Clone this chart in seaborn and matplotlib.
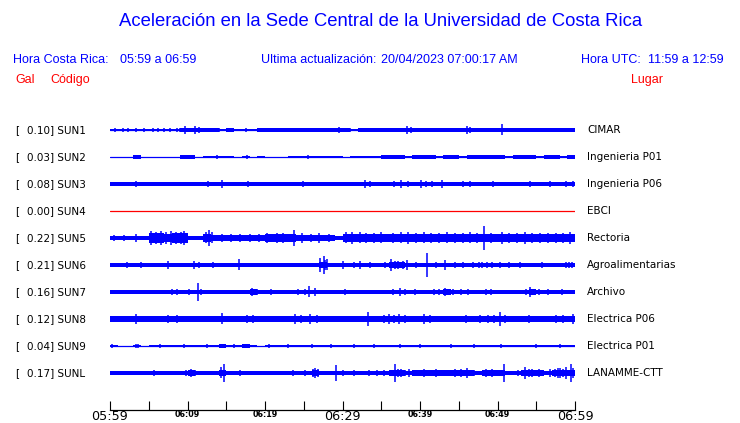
import numpy as np
import pandas as pd
import matplotlib
matplotlib.use("Agg")
import matplotlib.pyplot as plt
import seaborn as sns

# Station data (amplitudes in gal)
codes = ["SUN1", "SUN2", "SUN3", "SUN4", "SUN5", "SUN6", "SUN7", "SUN8", "SUN9", "SUNL"]
places = ["CIMAR", "Ingenieria P01", "Ingenieria P06", "EBCI", "Rectoria",
          "Agroalimentarias", "Archivo", "Electrica P06", "Electrica P01", "LANAMME-CTT"]
peaks = [0.10, 0.03, 0.08, 0.00, 0.22, 0.21, 0.16, 0.12, 0.04, 0.17]

# per-minute envelope half-height of the background band (60 one-minute bins)
band_sun1 = [0.022, 0.018, 0.022, 0.022, 0.018, 0.018, 0.022, 0.022, 0.027, 0.035,
             0.035, 0.032, 0.028, 0.028, 0.02, 0.028, 0.02, 0.022, 0.026, 0.028,
             0.028, 0.028, 0.032, 0.032, 0.032, 0.032, 0.032, 0.032, 0.032, 0.034,
             0.032, 0.027, 0.034, 0.032, 0.034, 0.034, 0.032, 0.034, 0.034, 0.032,
             0.034, 0.034, 0.032, 0.034, 0.034, 0.032, 0.034, 0.034, 0.032, 0.034,
             0.034, 0.032, 0.034, 0.034, 0.032, 0.034, 0.034, 0.032, 0.034, 0.034]
band_sun2 = [0.008, 0.008, 0.008, 0.028, 0.008, 0.008, 0.008, 0.008, 0.008, 0.028,
             0.028, 0.008, 0.016, 0.027, 0.027, 0.016, 0.008, 0.027, 0.008, 0.013,
             0.008, 0.008, 0.008, 0.016, 0.025, 0.027, 0.027, 0.016, 0.013, 0.013,
             0.008, 0.016, 0.027, 0.027, 0.016, 0.028, 0.028, 0.028, 0.014, 0.028,
             0.028, 0.028, 0.014, 0.028, 0.028, 0.014, 0.028, 0.028, 0.028, 0.028,
             0.028, 0.014, 0.028, 0.028, 0.028, 0.014, 0.028, 0.028, 0.014, 0.028]
band_sun3 = [0.034] * 8 + [0.04, 0.04, 0.034, 0.034, 0.04, 0.034, 0.045] + [0.034] * 7 + \
            [0.04, 0.034, 0.04, 0.04] + [0.034] * 6 + [0.045, 0.045, 0.034, 0.034, 0.045, 0.045] + \
            [0.034, 0.034, 0.04, 0.04] + [0.034] * 7 + [0.04, 0.04, 0.034, 0.034, 0.04, 0.034,
                                                        0.034, 0.04, 0.04, 0.04, 0.04]
band_sun4 = [0.0] * 60
band_sun5 = [0.042] * 5 + [0.085, 0.085, 0.08, 0.085, 0.085, 0.045, 0.045, 0.07] + [0.058] * 7 + \
            [0.066] * 4 + [0.062] * 5 + [0.045] + \
            [0.075, 0.07, 0.075, 0.068, 0.075, 0.075, 0.07, 0.075, 0.068, 0.075,
             0.07, 0.075, 0.068, 0.07, 0.075, 0.07, 0.068, 0.075] + [0.066] * 12
band_sun6 = [0.036] * 12 + [0.045, 0.045] + [0.036] * 13 + [0.06] + [0.036] * 8 + \
            [0.05, 0.05] + [0.036] * 9 + [0.045, 0.045, 0.045] + [0.036] * 8 + [0.045, 0.045]
band_sun7 = [0.032, 0.032, 0.032, 0.04, 0.032, 0.032, 0.032, 0.032, 0.04, 0.04,
             0.032, 0.032, 0.032, 0.032, 0.032, 0.032, 0.032, 0.032, 0.05, 0.04,
             0.04, 0.032, 0.032, 0.04, 0.032, 0.045, 0.032, 0.032, 0.032, 0.04,
             0.04, 0.032, 0.032, 0.032, 0.032, 0.032, 0.032, 0.045, 0.032, 0.04,
             0.032, 0.032, 0.032, 0.05, 0.032, 0.045, 0.045, 0.032, 0.032, 0.045,
             0.032, 0.04, 0.032, 0.032, 0.055, 0.032, 0.04, 0.04, 0.04, 0.04]
band_sun8 = [0.046, 0.046, 0.046, 0.046, 0.046, 0.046, 0.046, 0.055, 0.055, 0.055,
             0.046, 0.046, 0.046, 0.046, 0.055, 0.046, 0.046, 0.055, 0.055, 0.046,
             0.046, 0.046, 0.046, 0.055, 0.055, 0.055, 0.055, 0.046, 0.046, 0.046,
             0.046, 0.046, 0.046, 0.046, 0.046, 0.055, 0.055, 0.055, 0.055, 0.046,
             0.055, 0.055, 0.046, 0.046, 0.046, 0.055, 0.055, 0.046, 0.055, 0.055,
             0.055, 0.046, 0.046, 0.046, 0.046, 0.046, 0.046, 0.046, 0.046, 0.055]
band_sun9 = [0.026, 0.008, 0.008, 0.026, 0.008, 0.016, 0.02, 0.02, 0.016, 0.024,
             0.024, 0.016, 0.024, 0.024, 0.03, 0.026, 0.024, 0.028, 0.016, 0.008,
             0.02, 0.016, 0.016, 0.026] + [0.027] * 36
band_sunl = [0.036] * 10 + [0.05, 0.036, 0.036, 0.036, 0.055] + [0.036] * 11 + \
            [0.055, 0.036, 0.036, 0.042, 0.036, 0.036, 0.036, 0.042, 0.042, 0.042,
             0.055, 0.055, 0.036] + [0.048] * 8 + [0.036, 0.048, 0.048, 0.048, 0.036,
                                                   0.036, 0.06, 0.06, 0.06, 0.036,
                                                   0.062, 0.062, 0.062]

# spikes: (minute after 05:59, half-height in gal)
spikes_sun1 = [(4.4, 0.033), (9.7, 0.068), (10.1, 0.045), (11.0, 0.08), (14.0, 0.042),
               (22.6, 0.045), (29.5, 0.058), (34.1, 0.045), (38.3, 0.068), (38.8, 0.055),
               (41.5, 0.045), (46.0, 0.073), (46.5, 0.055), (49.7, 0.045), (50.6, 0.10),
               (57.9, 0.045),
               (0.6, 0.028), (1.7, 0.028), (2.3, 0.028), (3.3, 0.028), (5.5, 0.028),
               (6.2, 0.028), (7.0, 0.028), (7.8, 0.028), (8.6, 0.04), (9.0, 0.045),
               (11.5, 0.05), (12.2, 0.045), (13.2, 0.035), (15.5, 0.035), (17.5, 0.03),
               (19.5, 0.035), (20.5, 0.035), (24.0, 0.04), (26.0, 0.04), (27.5, 0.035),
               (31.0, 0.04), (33.0, 0.04), (36.0, 0.04), (40.0, 0.04), (43.5, 0.04),
               (48.0, 0.04), (53.0, 0.04), (55.5, 0.04), (59.0, 0.04)]
spikes_sun2 = [(3.3, 0.03), (9.6, 0.03), (13.8, 0.03), (17.7, 0.03), (25.5, 0.03),
               (36.5, 0.03), (49.8, 0.03), (19.3, 0.022), (28.5, 0.025), (31.2, 0.025)]
spikes_sun3 = [(3.3, 0.055), (7.7, 0.045), (9.2, 0.045), (14.4, 0.068), (17.8, 0.055),
               (21.0, 0.045), (22.8, 0.045), (25.3, 0.045), (32.9, 0.064), (37.6, 0.08),
               (40.1, 0.08), (42.8, 0.064), (45.6, 0.05), (50.2, 0.045), (53.5, 0.045),
               (58.0, 0.045), (59.8, 0.05),
               (1.5, 0.04), (5.0, 0.04), (10.5, 0.045), (12.7, 0.05), (16.0, 0.04),
               (19.5, 0.04), (24.9, 0.05), (27.0, 0.045), (28.5, 0.04), (30.5, 0.045),
               (33.6, 0.05), (35.0, 0.045), (36.6, 0.055), (38.5, 0.05), (40.8, 0.05),
               (41.6, 0.05), (44.0, 0.045), (46.4, 0.05), (49.4, 0.05), (52.0, 0.045),
               (54.2, 0.05), (55.5, 0.045), (56.8, 0.05), (58.8, 0.05)]
spikes_sun4 = []
spikes_sun5 = [(3.3, 0.064), (9.6, 0.127), (12.8, 0.145), (18.0, 0.07), (21.5, 0.09),
               (23.7, 0.145), (27.0, 0.09), (31.2, 0.109), (34.0, 0.09), (36.5, 0.09),
               (38.5, 0.109), (42.5, 0.09), (45.5, 0.09), (48.2, 0.22), (50.6, 0.109),
               (53.5, 0.109), (56.5, 0.09), (59.4, 0.109),
               (0.5, 0.055), (1.8, 0.05), (5.3, 0.12), (5.9, 0.11), (6.6, 0.12),
               (7.2, 0.11), (7.9, 0.12), (8.5, 0.11), (9.2, 0.115), (12.4, 0.1),
               (13.2, 0.1), (14.5, 0.075), (15.6, 0.08), (16.8, 0.075), (19.2, 0.08),
               (20.3, 0.085), (22.3, 0.09), (24.8, 0.085), (25.9, 0.08), (28.2, 0.075),
               (30.4, 0.1), (32.2, 0.1), (33.0, 0.095), (35.0, 0.1), (37.5, 0.1),
               (39.5, 0.095), (40.5, 0.1), (41.4, 0.095), (43.5, 0.1), (44.5, 0.095),
               (46.5, 0.1), (47.3, 0.095), (49.2, 0.09), (51.5, 0.09), (52.5, 0.085),
               (54.5, 0.09), (55.5, 0.085), (57.5, 0.09), (58.5, 0.09)]
spikes_sun6 = [(0.9, 0.045), (2.2, 0.055), (4.0, 0.055), (7.5, 0.064), (10.9, 0.064),
               (11.5, 0.055), (12.8, 0.045), (16.6, 0.10), (19.2, 0.045), (27.1, 0.12),
               (27.6, 0.17), (28.0, 0.10), (30.1, 0.064), (32.3, 0.073), (33.5, 0.05),
               (36.3, 0.109), (37.2, 0.073), (38.3, 0.082), (40.9, 0.21), (43.2, 0.082),
               (44.5, 0.055), (48.0, 0.055), (50.3, 0.05), (52.9, 0.055), (54.8, 0.045),
               (59.6, 0.05),
               (1.5, 0.045), (3.0, 0.045), (5.5, 0.045), (6.5, 0.045), (9.0, 0.045),
               (13.3, 0.05), (14.5, 0.045), (15.5, 0.045), (18.0, 0.045), (21.5, 0.045),
               (24.0, 0.045), (25.5, 0.045), (27.8, 0.09), (29.2, 0.045), (31.5, 0.05),
               (34.5, 0.045), (35.5, 0.05), (36.8, 0.07), (37.8, 0.07), (39.5, 0.05),
               (42.0, 0.05), (45.5, 0.05), (46.8, 0.05), (47.6, 0.06), (48.6, 0.055),
               (49.3, 0.06), (51.5, 0.05), (55.8, 0.05), (57.2, 0.045), (58.8, 0.06),
               (59.2, 0.055)]
spikes_sun7 = [(0.9, 0.04), (3.4, 0.045), (6.0, 0.045), (8.0, 0.055), (9.5, 0.045),
               (11.3, 0.16), (11.8, 0.06), (13.3, 0.045), (16.1, 0.045), (18.3, 0.064),
               (20.2, 0.045), (23.8, 0.045), (25.7, 0.10), (26.5, 0.073), (29.9, 0.045),
               (31.5, 0.045), (35.3, 0.045), (37.4, 0.073), (39.4, 0.05), (41.8, 0.05),
               (43.2, 0.073), (46.2, 0.055), (49.2, 0.055), (51.5, 0.045), (54.2, 0.082),
               (57.0, 0.045), (59.5, 0.045),
               (1.8, 0.04), (2.5, 0.04), (4.5, 0.04), (5.2, 0.04), (7.0, 0.04),
               (8.7, 0.05), (10.2, 0.05), (12.3, 0.045), (14.5, 0.04), (15.2, 0.04),
               (17.3, 0.045), (19.0, 0.05), (20.8, 0.05), (22.0, 0.04), (24.2, 0.05),
               (25.2, 0.06), (27.5, 0.045), (28.5, 0.045), (30.3, 0.05), (32.5, 0.045),
               (33.5, 0.045), (34.6, 0.045), (36.5, 0.055), (38.0, 0.06), (40.3, 0.045),
               (42.5, 0.05), (44.3, 0.05), (45.3, 0.055), (47.5, 0.045), (48.5, 0.05),
               (50.5, 0.045), (52.5, 0.045), (53.7, 0.06), (55.3, 0.05), (56.5, 0.05),
               (58.3, 0.05)]
spikes_sun8 = [(3.3, 0.09), (7.5, 0.064), (8.7, 0.064), (14.4, 0.10), (17.7, 0.073),
               (18.5, 0.064), (23.9, 0.082), (25.8, 0.082), (26.7, 0.07), (33.3, 0.12),
               (36.0, 0.082), (37.3, 0.082), (38.1, 0.073), (40.5, 0.082), (45.9, 0.07),
               (48.8, 0.073), (50.3, 0.12), (51.0, 0.07), (54.0, 0.064), (57.5, 0.064),
               (59.7, 0.09),
               (0.5, 0.06), (1.5, 0.06), (2.5, 0.055), (4.5, 0.06), (5.5, 0.06),
               (6.5, 0.06), (9.5, 0.06), (10.5, 0.06), (11.7, 0.06), (13.0, 0.06),
               (15.5, 0.06), (16.5, 0.06), (19.5, 0.06), (21.0, 0.06), (22.2, 0.06),
               (24.7, 0.07), (28.0, 0.06), (29.5, 0.06), (31.0, 0.06), (32.2, 0.06),
               (34.5, 0.06), (35.3, 0.07), (36.7, 0.07), (39.2, 0.06), (41.3, 0.07),
               (42.5, 0.06), (43.6, 0.06), (44.7, 0.06), (46.8, 0.06), (47.7, 0.065),
               (49.5, 0.07), (52.2, 0.06), (53.2, 0.06), (55.0, 0.06), (56.2, 0.06),
               (58.5, 0.07)]
spikes_sun9 = [(0.3, 0.035), (3.4, 0.038), (14.4, 0.038), (37.4, 0.036), (40.0, 0.038),
               (50.5, 0.04),
               (3.6, 0.034), (6.5, 0.03), (9.5, 0.03), (12.5, 0.03), (16.0, 0.03),
               (17.5, 0.034), (20.5, 0.03), (23.0, 0.034), (26.0, 0.034), (28.5, 0.034),
               (31.5, 0.034), (34.0, 0.034), (44.0, 0.034), (47.0, 0.034), (55.0, 0.034),
               (58.0, 0.034)]
spikes_sunl = [(2.8, 0.045), (3.3, 0.045), (5.7, 0.055), (8.8, 0.045), (10.5, 0.064),
               (13.2, 0.045), (14.3, 0.10), (14.7, 0.164), (16.8, 0.055), (19.1, 0.045),
               (20.2, 0.045), (21.5, 0.045), (24.5, 0.045), (26.5, 0.09), (29.2, 0.145),
               (30.5, 0.045), (34.5, 0.05), (36.8, 0.17), (37.5, 0.08), (38.6, 0.064),
               (40.5, 0.064), (42.0, 0.064), (44.5, 0.064), (46.0, 0.09), (48.5, 0.064),
               (50.8, 0.17), (53.5, 0.109), (54.5, 0.073), (55.4, 0.073), (57.4, 0.073),
               (58.1, 0.082), (58.9, 0.109), (59.5, 0.17),
               (0.5, 0.04), (1.2, 0.04), (4.5, 0.04), (7.0, 0.04), (9.8, 0.05),
               (11.0, 0.055), (12.2, 0.04), (15.3, 0.045), (17.5, 0.045), (18.2, 0.04),
               (22.8, 0.045), (23.6, 0.05), (25.1, 0.05), (26.2, 0.07), (26.9, 0.07),
               (28.2, 0.045), (30.0, 0.05), (31.5, 0.05), (32.5, 0.045), (33.4, 0.05),
               (35.3, 0.05), (37.1, 0.08), (38.0, 0.06), (39.4, 0.06), (41.2, 0.06),
               (42.8, 0.06), (43.7, 0.06), (45.3, 0.07), (47.0, 0.055), (49.3, 0.07),
               (50.1, 0.06), (52.6, 0.06), (54.0, 0.08), (55.9, 0.06), (56.8, 0.07),
               (57.8, 0.09), (58.5, 0.08), (59.8, 0.09)]

bands = [band_sun1, band_sun2, band_sun3, band_sun4, band_sun5,
         band_sun6, band_sun7, band_sun8, band_sun9, band_sunl]
spikes = [spikes_sun1, spikes_sun2, spikes_sun3, spikes_sun4, spikes_sun5,
          spikes_sun6, spikes_sun7, spikes_sun8, spikes_sun9, spikes_sunl]

tick_minutes = list(range(0, 61, 5))
tick_labels = ["05:59", "", "06:09", "", "06:19", "", "06:29", "", "06:39", "", "06:49", "", "06:59"]
big_ticks = ["05:59", "06:29", "06:59"]

BLUE = "#0000ff"
RED = "#ff0000"
W, H = 740, 423
PX_PER_GAL = 55.0      # vertical gain shared by all traces
ROW_PX = 27.0          # distance between traces
TOP_BASE_PX = 130.0    # baseline of first trace
AX_TOP_PX, AX_BOT_PX = 112.0, 409.5
AX_LEFT_PX, AX_RIGHT_PX = 110.0, 575.0

sns.set_theme(style="white")
plt.rcParams["font.family"] = ["DejaVu Sans"]
plt.rcParams["text.color"] = "black"
plt.rcParams["xtick.color"] = "black"

fig = plt.figure(figsize=(W / 100, H / 100), dpi=100)
ax = fig.add_axes([AX_LEFT_PX / W, (H - AX_BOT_PX) / H,
                   (AX_RIGHT_PX - AX_LEFT_PX) / W, (AX_BOT_PX - AX_TOP_PX) / H])
ax.set_xlim(0, 60)
ax.set_ylim(-(AX_BOT_PX - TOP_BASE_PX) / PX_PER_GAL, (TOP_BASE_PX - AX_TOP_PX) / PX_PER_GAL)

spacing = ROW_PX / PX_PER_GAL
edges = np.arange(61)
rows = []
for i, code in enumerate(codes):
    base = -i * spacing
    rows += [{"minute": 0, "y": base, "code": code}, {"minute": 60, "y": base, "code": code}]
df = pd.DataFrame(rows)
palette = {c: (RED if p == 0 else BLUE) for c, p in zip(codes, peaks)}
sns.lineplot(data=df, x="minute", y="y", hue="code", palette=palette,
             linewidth=0.9, legend=False, ax=ax)

for i, code in enumerate(codes):
    base = -i * spacing
    env = np.array(bands[i] + [bands[i][-1]])
    if env.max() > 0:
        ax.fill_between(edges, base - env, base + env, step="post",
                        color=BLUE, linewidth=0)
    if spikes[i]:
        sx = [s[0] for s in spikes[i]]
        sa = np.array([s[1] for s in spikes[i]])
        ax.vlines(sx, base - sa, base + sa, color=BLUE, linewidth=1.1)

    yfig = 1 - (TOP_BASE_PX + i * ROW_PX) / H
    fig.text(15 / W, yfig, "[", fontsize=7.5, va="center", ha="left")
    fig.text(27 / W, yfig, f"{peaks[i]:.2f}] {code}", fontsize=7.5, va="center", ha="left")
    fig.text(587 / W, yfig, places[i], fontsize=7.5, va="center", ha="left")

for s in ["top", "left", "right"]:
    ax.spines[s].set_visible(False)
ax.spines["bottom"].set_color("black")
ax.spines["bottom"].set_linewidth(0.9)
ax.set_yticks([])
ax.set_xticks(tick_minutes)
ax.set_xticklabels(tick_labels)
ax.tick_params(axis="x", direction="in", length=6.5, width=0.8, color="black", pad=0.5,
               bottom=True)
for lab in ax.get_xticklabels():
    if lab.get_text() in big_ticks:
        lab.set_fontsize(9.2)
    else:
        lab.set_fontsize(5.8)
        lab.set_fontweight("bold")
ax.set_xlabel("")
ax.set_ylabel("")

hdr = ["Liberation Sans", "DejaVu Sans"]
fig.text(381 / W, 1 - 22 / H, "Aceleración en la Sede Central de la Universidad de Costa Rica",
         family=hdr, fontsize=13.3, color=BLUE, ha="center", va="center")
fig.text(13 / W, 1 - 60 / H, "Hora Costa Rica:", family=hdr, fontsize=9, color=BLUE, va="center")
fig.text(120 / W, 1 - 60 / H, "05:59 a 06:59", family=hdr, fontsize=9, color=BLUE, va="center")
fig.text(261 / W, 1 - 60 / H, "Ultima actualización:", family=hdr, fontsize=9, color=BLUE, va="center")
fig.text(381 / W, 1 - 60 / H, "20/04/2023 07:00:17 AM", family=hdr, fontsize=9, color=BLUE, va="center")
fig.text(581 / W, 1 - 60 / H, "Hora UTC:", family=hdr, fontsize=9, color=BLUE, va="center")
fig.text(724 / W, 1 - 60 / H, "11:59 a 12:59", family=hdr, fontsize=9, color=BLUE, va="center", ha="right")
fig.text(15 / W, 1 - 80 / H, "Gal", family=hdr, fontsize=9, color=RED, va="center")
fig.text(50 / W, 1 - 80 / H, "Código", family=hdr, fontsize=9, color=RED, va="center")
fig.text(631 / W, 1 - 80 / H, "Lugar", family=hdr, fontsize=9, color=RED, va="center")

fig.savefig("out.png", dpi=100, facecolor="white")
